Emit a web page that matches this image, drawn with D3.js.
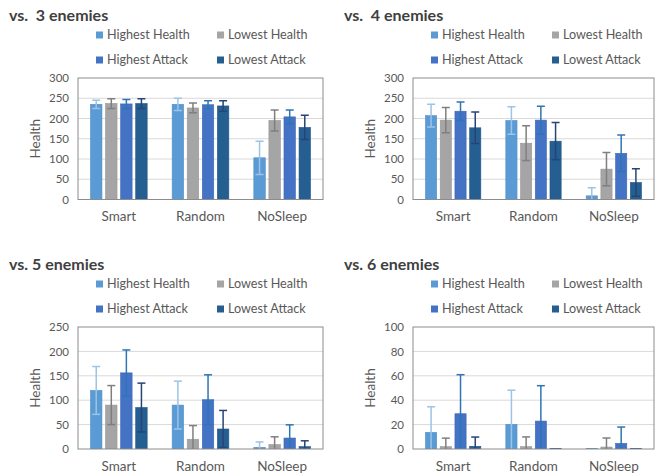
<!DOCTYPE html>
<html>
<head>
<meta charset="utf-8">
<script src="https://cdn.jsdelivr.net/npm/d3@7"></script>
<style>
  body { margin: 0; background: #fff; font-family: Lato, "Open Sans", sans-serif; }
  .tick text { fill: #595959; }
</style>
</head>
<body>
<svg id="chart" width="655" height="474"></svg>
<script>
// shared
var categories = ["Smart", "Random", "NoSleep"];
var seriesNames = ["Highest Health", "Lowest Health", "Highest Attack", "Lowest Attack"];
var barColors = ["#5b9bd5", "#a5a5a5", "#4472c4", "#255e91"];
var errColors = ["#9dc3e6", "#7f7f7f", "#2e75b6", "#264478"];

// vs 3 enemies  (rows = category, cols = series)
var mean3 = [[235, 237, 236, 237], [235, 226, 234, 231], [103, 195, 204, 178]];
var err3  = [[10, 12, 11, 12], [15, 12, 10, 13], [41, 26, 17, 30]];
// vs 4 enemies
var mean4 = [[207, 196, 218, 177], [195, 139, 196, 144], [9, 75, 114, 42]];
var err4  = [[28, 31, 23, 39], [34, 43, 34, 46], [20, 41, 45, 34]];
// vs 5 enemies
var mean5 = [[120, 90, 156, 85], [90, 20, 101, 41], [3.4, 9, 22.5, 4.8]];
var err5  = [[49, 40, 47, 50], [49, 28, 51, 38], [11, 16, 27, 12]];
// vs 6 enemies
var mean6 = [[13.6, 1.9, 28.9, 2.2], [20.2, 1.9, 22.9, 0.5], [0.4, 1.6, 4.6, 0.5]];
var err6  = [[21, 7, 32, 7.6], [28, 8, 29, 0], [0, 7.4, 13.4, 0]];

var titles = ["vs.  3 enemies", "vs.  4 enemies", "vs. 5 enemies", "vs. 6 enemies"];
var yMax = [300, 300, 250, 100];
var yStep = [50, 50, 50, 20];
var means = [mean3, mean4, mean5, mean6];
var errs = [err3, err4, err5, err6];

var panels = [
  {x: 0, y: 0, left: 78, right: 323, top: 78, bottom: 199.5},
  {x: 335, y: 0, left: 413, right: 654, top: 78, bottom: 199.5},
  {x: 0, y: 249, left: 78, right: 323, top: 327, bottom: 449},
  {x: 335, y: 249, left: 413, right: 654, top: 327, bottom: 449}
];

var svg = d3.select("#chart");

panels.forEach(function (p, i) {
  var g = svg.append("g");
  var w = p.right - p.left, h = p.bottom - p.top;

  // title
  g.append("text")
    .attr("x", p.x + 9).attr("y", p.y + 15).attr("dy", "0.35em")
    .attr("font-size", 16).attr("font-weight", "bold").attr("fill", "#404040")
    .style("white-space", "pre")
    .text(titles[i]);

  // legend
  var leg = g.selectAll(".leg").data(seriesNames).enter().append("g")
    .attr("transform", function (d, j) {
      return "translate(" + (p.left + 18 + (j % 2) * 121) + "," + (p.y + 35 + Math.floor(j / 2) * 25) + ")";
    });
  leg.append("rect").attr("x", 0).attr("y", -3.5).attr("width", 7).attr("height", 7)
    .attr("fill", function (d, j) { return barColors[j]; });
  leg.append("text").attr("x", 11).attr("dy", "0.35em")
    .attr("font-size", 12.6).attr("fill", "#595959")
    .text(function (d) { return d; });

  var x0 = d3.scaleBand().domain(categories).range([p.left, p.right]);
  var x1 = d3.scaleBand().domain(d3.range(4))
    .range([12.5, x0.bandwidth() - 12.5]).paddingInner(0.24);
  var y = d3.scaleLinear().domain([0, yMax[i]]).range([p.bottom, p.top]);

  // gridlines
  g.append("g").selectAll("line").data(d3.range(yStep[i], yMax[i], yStep[i])).enter()
    .append("line")
    .attr("x1", p.left).attr("x2", p.right)
    .attr("y1", function (d) { return y(d); }).attr("y2", function (d) { return y(d); })
    .attr("stroke", "#d9d9d9");

  // y axis labels
  var ya = g.append("g").attr("transform", "translate(" + (p.left - 3) + ",0)")
    .call(d3.axisLeft(y).tickValues(d3.range(0, yMax[i] + 1, yStep[i])).tickSize(0).tickPadding(6));
  ya.select(".domain").remove();
  ya.selectAll("text").attr("font-size", 11.5).attr("font-family", "Lato, sans-serif");

  // x axis labels
  var xa = g.append("g").attr("transform", "translate(0," + p.bottom + ")")
    .call(d3.axisBottom(x0).tickSize(0).tickPadding(12));
  xa.select(".domain").remove();
  xa.selectAll("text").attr("font-size", 13.5).attr("font-family", "Lato, sans-serif");

  g.append("text")
    .attr("transform", "translate(" + (p.left - 43) + "," + (p.top + h / 2) + ") rotate(-90)")
    .attr("text-anchor", "middle").attr("dy", "0.35em")
    .attr("font-size", 13.5).attr("fill", "#595959")
    .text("Health");

  // clip
  var clipId = "clip" + i;
  g.append("clipPath").attr("id", clipId).append("rect")
    .attr("x", p.left).attr("y", p.top).attr("width", w).attr("height", h);

  var rows = [];
  categories.forEach(function (c, ci) {
    seriesNames.forEach(function (s, si) {
      rows.push({cat: c, s: si, v: means[i][ci][si], e: errs[i][ci][si]});
    });
  });

  var plot = g.append("g").attr("clip-path", "url(#" + clipId + ")");

  plot.selectAll("rect.bar").data(rows).enter().append("rect")
    .attr("class", "bar")
    .attr("x", function (d) { return x0(d.cat) + x1(d.s); })
    .attr("width", x1.bandwidth())
    .attr("y", function (d) { return y(d.v); })
    .attr("height", function (d) { return p.bottom - y(d.v); })
    .attr("fill", function (d) { return barColors[d.s]; })
    .attr("stroke", function (d) { return d3.color(barColors[d.s]).darker(0.25); })
    .attr("stroke-width", 0.6);

  var eb = plot.selectAll("g.err").data(rows.filter(function (d) { return d.e > 0; })).enter()
    .append("g").attr("stroke", function (d) { return errColors[d.s]; }).attr("stroke-width", 1.5);
  eb.append("line")
    .attr("x1", function (d) { return x0(d.cat) + x1(d.s) + x1.bandwidth() / 2; })
    .attr("x2", function (d) { return x0(d.cat) + x1(d.s) + x1.bandwidth() / 2; })
    .attr("y1", function (d) { return y(d.v + d.e); })
    .attr("y2", function (d) { return y(d.v - d.e); });
  [1, -1].forEach(function (sg) {
    eb.append("line")
      .attr("x1", function (d) { return x0(d.cat) + x1(d.s) + x1.bandwidth() / 2 - 4; })
      .attr("x2", function (d) { return x0(d.cat) + x1(d.s) + x1.bandwidth() / 2 + 4; })
      .attr("y1", function (d) { return y(d.v + sg * d.e); })
      .attr("y2", function (d) { return y(d.v + sg * d.e); });
  });

  // frame
  g.append("rect").attr("x", p.left).attr("y", p.top).attr("width", w).attr("height", h)
    .attr("fill", "none").attr("stroke", "#8c8c8c");
});
</script>
</body>
</html>
